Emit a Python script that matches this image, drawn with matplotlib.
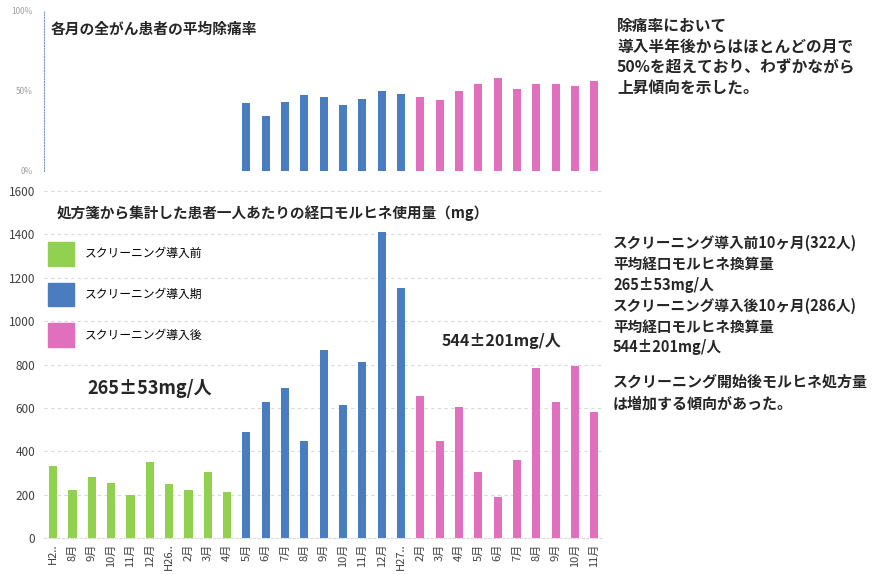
import matplotlib
matplotlib.use("Agg")
import matplotlib.pyplot as plt
from matplotlib.patches import Patch

plt.rcParams['font.family'] = ['Noto Sans CJK JP', 'DejaVu Sans']

# monthly labels (H25.7 - H27.11)
months = ["H2..", "8月", "9月", "10月", "11月", "12月", "H26..", "2月", "3月", "4月",
          "5月", "6月", "7月", "8月", "9月", "10月", "11月", "12月", "H27..",
          "2月", "3月", "4月", "5月", "6月", "7月", "8月", "9月", "10月", "11月"]

# oral morphine per patient (mg), by period
dose_before = [333, 222, 280, 253, 200, 352, 250, 220, 305, 213]
dose_intro = [490, 625, 690, 445, 868, 612, 812, 1410, 1152]
dose_after = [654, 448, 605, 306, 188, 360, 785, 625, 793, 579]

# average pain relief rate (%) from the introduction period onwards
relief_intro = [42, 34, 43, 47, 46, 41, 45, 50, 48]
relief_after = [46, 44, 50, 54, 58, 51, 54, 54, 53, 56]

GREEN = "#92d050"
BLUE = "#4a7cc0"
PINK = "#e070bd"
TXT = "#262626"

n_before = len(dose_before)
n_intro = len(dose_intro)
x_before = list(range(n_before))
x_intro = list(range(n_before, n_before + n_intro))
x_after = list(range(n_before + n_intro, len(months)))

fig = plt.figure(figsize=(8.74, 5.75), dpi=100)
W, H = 874, 575

# ---- bottom chart: morphine dose
ax = fig.add_axes([43.5 / W, (H - 538) / H, 560.5 / W, 347 / H])
bw = 0.42
ax.bar(x_before, dose_before, width=bw, color=GREEN)
ax.bar(x_intro, dose_intro, width=bw, color=BLUE)
ax.bar(x_after, dose_after, width=bw, color=PINK)
ax.set_xlim(-0.5, len(months) - 0.5)
ax.set_ylim(0, 1600)
ax.set_yticks(range(0, 1601, 200))
ax.yaxis.grid(True, color="#d9d9d9", linestyle=(0, (3, 3)), linewidth=0.8)
ax.set_axisbelow(True)
for s in ["top", "right", "left"]:
    ax.spines[s].set_visible(False)
ax.spines["bottom"].set_color("#d9d9d9")
ax.spines["bottom"].set_linestyle((0, (2, 2)))
ax.tick_params(axis="y", length=0, pad=6, labelsize=8.5, labelcolor="#404040")
ax.set_xticks(range(len(months)))
ax.set_xticklabels(months, rotation=90, fontsize=8, color="#404040")
ax.tick_params(axis="x", length=0, pad=4)

ax.text(57 / W, (H - 213) / H, "処方箋から集計した患者一人あたりの経口モルヒネ使用量（mg）",
        transform=fig.transFigure, fontsize=10.5, fontweight="bold", color=TXT,
        va="center", ha="left")

handles = [Patch(color=GREEN, label="スクリーニング導入前"),
           Patch(color=BLUE, label="スクリーニング導入期"),
           Patch(color=PINK, label="スクリーニング導入後")]
ax.legend(handles=handles, loc="upper left", bbox_to_anchor=(48 / W, (H - 242) / H),
          bbox_transform=fig.transFigure, frameon=False, fontsize=8.5,
          handlelength=2.2, handleheight=2.7, handletextpad=0.9,
          labelspacing=1.45, borderpad=0, borderaxespad=0)

ax.text(5.0, 691, "265±53mg/人", fontsize=13, fontweight="bold", color=TXT,
        ha="center", va="center")
ax.text(23.2, 908, "544±201mg/人", fontsize=11.5, fontweight="bold", color=TXT,
        ha="center", va="center")

# ---- top chart: pain relief rate
ax2 = fig.add_axes([43.5 / W, (H - 171) / H, 560.5 / W, 161 / H])
ax2.bar(x_intro, relief_intro, width=bw, color=BLUE)
ax2.bar(x_after, relief_after, width=bw, color=PINK)
ax2.set_xlim(-0.5, len(months) - 0.5)
ax2.set_ylim(0, 100)
ax2.set_yticks([0, 50, 100])
ax2.set_yticklabels(["0%", "50%", "100%"])
ax2.set_xticks([])
for s in ["top", "right", "bottom"]:
    ax2.spines[s].set_visible(False)
ax2.spines["left"].set_color("#7a9bd0")
ax2.spines["left"].set_linestyle((0, (1, 1.5)))
ax2.tick_params(axis="y", length=0, pad=8, labelsize=6, labelcolor="#a0a0a0")
ax2.patch.set_alpha(0)
ax2.text(51 / W, (H - 29) / H, "各月の全がん患者の平均除痛率", transform=fig.transFigure,
         fontsize=10.6, fontweight="bold", color=TXT, va="center", ha="left")

# ---- notes on the right
notes = [
    (617, 11.3, [26, 47, 67, 88], ["除痛率において", "導入半年後からはほとんどの月で",
                                   "50%を超えており、わずかながら", "上昇傾向を示した。"]),
    (613, 10.5, [243, 264, 285, 306, 327, 347],
     ["スクリーニング導入前10ヶ月(322人)", "平均経口モルヒネ換算量", "265±53mg/人",
      "スクリーニング導入後10ヶ月(286人)", "平均経口モルヒネ換算量", "544±201mg/人"]),
    (613, 10.8, [382, 404], ["スクリーニング開始後モルヒネ処方量", "は増加する傾向があった。"]),
]
for x0, size, ys, lines in notes:
    for y0, line in zip(ys, lines):
        fig.text(x0 / W, (H - y0) / H, line, fontsize=size, fontweight="bold",
                 color=TXT, ha="left", va="center")

fig.savefig("out.png", dpi=100)
